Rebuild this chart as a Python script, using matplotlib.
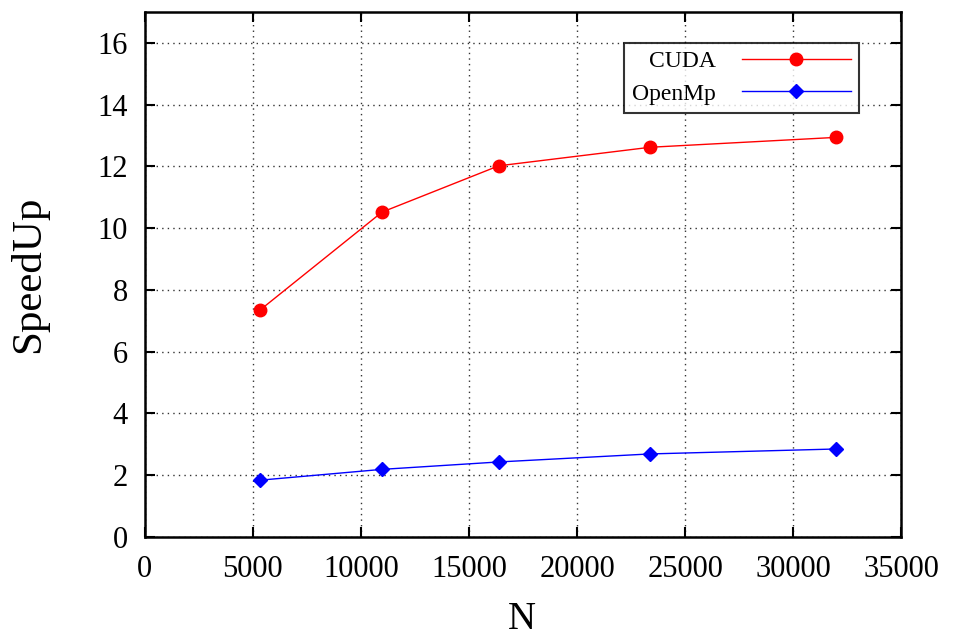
import matplotlib
matplotlib.use("Agg")
import matplotlib.pyplot as plt

plt.rcParams['font.family'] = ['Liberation Serif', 'DejaVu Serif']

# data
n_values = [5340, 10980, 16380, 23380, 31980]
cuda_speedup = [7.35, 10.52, 12.02, 12.62, 12.94]
openmp_speedup = [1.84, 2.19, 2.43, 2.69, 2.85]

fig = plt.figure(figsize=(9.54, 6.39), dpi=100)
ax_w = (901.4 - 144.6)
ax_h = (537 - 12)
ax = fig.add_axes([144.6 / 954, 1 - 537 / 639, ax_w / 954, ax_h / 639])

ax.plot(n_values, cuda_speedup, color="red", linewidth=1.0, marker="o",
        markersize=9, label="CUDA")
ax.plot(n_values, openmp_speedup, color="blue", linewidth=1.0, marker="D",
        markersize=7, label="OpenMp")

ax.set_xlim(0, 35000)
ax.set_ylim(0, 17)
ax.set_xticks(range(0, 35001, 5000))
ax.set_yticks(range(0, 17, 2))
ax.grid(True, color="#333333", linestyle=(0, (1, 3)), linewidth=1.0)
ax.tick_params(direction="in", length=7, width=1.5, top=True, right=True,
               labelsize=22)
ax.tick_params(axis="x", pad=13)
ax.tick_params(axis="y", pad=12)
for s in ax.spines.values():
    s.set_linewidth(1.8)

ax.set_xlabel("N", fontsize=28)
ax.set_ylabel("SpeedUp", fontsize=31)
ax.xaxis.set_label_coords((522 - 144.6) / ax_w, (537 - 601) / ax_h)
ax.yaxis.set_label_coords((48 - 144.6) / ax_w, 0.5)

leg = ax.legend(loc="upper right",
                bbox_to_anchor=((859 - 144.6) / ax_w, 1 - (42.7 - 12) / ax_h),
                borderaxespad=0, fontsize=17, frameon=True, fancybox=False,
                markerfirst=False, handlelength=4.6, borderpad=0.35,
                labelspacing=0.45, handletextpad=1.1)
leg.get_frame().set_edgecolor("black")
leg.get_frame().set_linewidth(1.5)
for t in leg.get_texts():
    t.set_ha("right")

fig.savefig("out.png", dpi=100)
